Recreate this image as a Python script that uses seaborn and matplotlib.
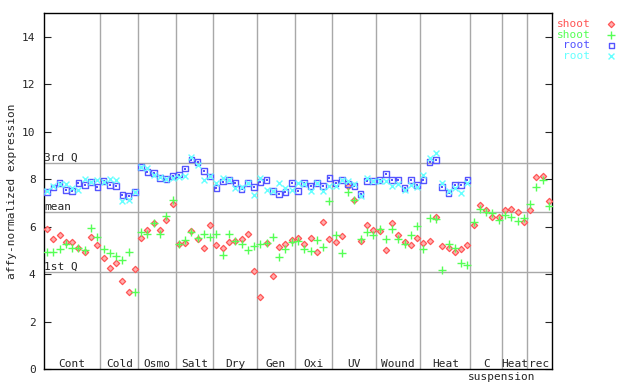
import matplotlib as mpl
import matplotlib.pyplot as plt
import seaborn as sns
import numpy as np
import pandas as pd

# sample groups along the x axis
groups = ["Cont", "Cold", "Osmo", "Salt", "Dry", "Gen", "Oxi", "UV",
          "Wound", "Heat", "C", "Heat", "rec"]
group_sizes = [9, 6, 6, 6, 7, 6, 6, 7, 7, 8, 5, 4, 4]

# shoot replicates (81 samples)
shoot_a = [5.89, 5.47, 5.64, 5.34, 5.34, 5.09, 4.92, 5.56, 5.22,
           4.67, 4.25, 4.46, 3.71, 3.23, 4.21,
           5.51, 5.85, 6.15, 5.85, 6.26, 6.95,
           5.26, 5.30, 5.81, 5.47, 5.09, 6.06,
           5.22, 5.09, 5.34, 5.39, 5.47, 5.68, 4.12,
           3.02, 5.30, 3.91, 5.13, 5.26, 5.43,
           5.51, 5.26, 5.51, 4.92, 6.19, 5.47,
           5.34, 5.60, 7.71, 7.10, 5.39, 6.06, 5.85,
           5.81, 5.01, 6.15, 5.64, 5.34, 5.22, 5.51,
           5.30, 5.39, 6.40, 5.18, 5.09, 4.92, 5.05, 5.22,
           6.06, 6.91, 6.69, 6.40, 6.40,
           6.69, 6.74, 6.61, 6.19,
           6.69, 8.09, 8.13, 7.07]
shoot_b = [4.92, 4.92, 5.05, 5.26, 5.09, 5.09, 5.01, 5.94, 5.56,
           5.05, 4.88, 4.75, 4.59, 4.92, 3.23,
           5.77, 5.68, 6.15, 5.68, 6.46, 7.12,
           5.26, 5.43, 5.77, 5.51, 5.68, 5.56,
           5.68, 4.80, 5.68, 5.39, 5.26, 5.01, 5.18,
           5.26, 5.30, 5.56, 4.71, 5.05, 5.34,
           5.39, 5.05, 4.96, 5.43, 5.13, 7.07,
           5.64, 4.88, 7.45, 7.12, 5.47, 5.77, 5.64,
           5.89, 5.47, 5.89, 5.47, 5.26, 5.64, 6.02,
           5.05, 6.36, 6.32, 4.16, 5.26, 5.09, 4.46, 4.37,
           6.19, 6.74, 6.61, 6.57, 6.27,
           6.48, 6.40, 6.23, 6.36,
           6.95, 7.67, 7.96, 6.86]

# root replicates (no cell culture samples)
root_a = [7.45, 7.65, 7.83, 7.55, 7.51, 7.83, 7.75, 7.88, 7.68,
          7.92, 7.75, 7.72, 7.33, 7.29, 7.45,
          8.51, 8.30, 8.26, 8.04, 8.00, 8.13,
          8.19, 8.44, 8.82, 8.72, 8.34, 8.12,
          7.62, 7.90, 7.96, 7.83, 7.58, 7.83, 7.67,
          7.88, 7.96, 7.50, 7.37, 7.45, 7.83,
          7.50, 7.83, 7.71, 7.83, 7.71, 8.05,
          7.83, 7.96, 7.79, 7.71, 7.37, 7.92, 7.92,
          7.96, 8.21, 7.96, 7.96, 7.62, 7.96, 7.75,
          7.96, 8.72, 8.80, 7.67, 7.41, 7.75, 7.75, 7.96]
root_b = [7.50, 7.72, 7.80, 7.79, 7.62, 7.54, 8.00, 7.88, 7.96,
          7.88, 8.00, 7.96, 7.07, 7.12, 7.45,
          8.51, 8.47, 8.17, 8.09, 8.00, 8.05,
          8.09, 8.13, 8.93, 8.59, 7.96, 8.13,
          7.83, 8.05, 7.96, 7.62, 7.67, 7.83, 7.33,
          8.05, 7.54, 7.50, 7.83, 7.62, 7.54,
          7.83, 7.79, 7.50, 7.83, 7.50, 7.71,
          7.71, 7.96, 7.92, 7.79, 7.29, 8.05, 7.92,
          7.92, 7.92, 7.71, 7.79, 7.54, 7.75, 7.67,
          8.17, 8.89, 9.10, 7.83, 7.50, 7.62, 7.41, 7.83]

q1, q_mean, q3 = 4.08, 6.60, 8.68

RED, GREEN, BLUE, CYAN = "#ff5555", "#55ff55", "#5555ff", "#66ffff"
GRID = "#a8a8a8"

sns.set_style("white")
plt.rcParams["font.family"] = ["DejaVu Sans Mono"]
plt.rcParams["font.size"] = 8

fig = plt.figure(figsize=(6.4, 3.84), dpi=100)
ax = fig.add_axes([44 / 640, 15 / 384, 508 / 640, 356 / 384])

# group separators and quartile lines
bounds = np.cumsum(group_sizes)[:-1] - 0.5
for b in bounds:
    ax.axvline(b, color=GRID, lw=1, zorder=0)
for val, name in [(q3, "3rd Q"), (q_mean, "mean"), (q1, "1st Q")]:
    ax.axhline(val, color=GRID, lw=1, zorder=0)
    ax.text(-0.45, val + 0.02, name, ha="left", va="bottom", fontsize=8)

shoot_df = pd.DataFrame({"sample": np.arange(len(shoot_a)), "a": shoot_a, "b": shoot_b})
root_df = pd.DataFrame({"sample": np.arange(len(root_a)), "a": root_a, "b": root_b})

sns.scatterplot(data=shoot_df, x="sample", y="a", ax=ax, marker="D", s=10,
                facecolor="#ffb0b0", edgecolor=RED, linewidth=0.9,
                label="shoot", legend=False, zorder=3)
sns.scatterplot(data=shoot_df, x="sample", y="b", ax=ax, marker="+", s=30,
                color=GREEN, linewidth=1.0, label="shoot", legend=False, zorder=3)
sns.scatterplot(data=root_df, x="sample", y="a", ax=ax, marker="s", s=16,
                facecolor="none", edgecolor=BLUE, linewidth=1.0,
                label="root", legend=False, zorder=3)
sns.scatterplot(data=root_df, x="sample", y="a", ax=ax, marker="s", s=1.2,
                color=BLUE, linewidth=0, legend=False, zorder=3)
sns.scatterplot(data=root_df, x="sample", y="b", ax=ax, marker="x", s=18,
                color=CYAN, linewidth=1.0, label="root", legend=False, zorder=3)

# group names along the bottom
start = 0
for name, n in zip(groups, group_sizes):
    ax.text(start + n / 2 - 0.5, 0.22, name, ha="center", va="center", fontsize=8)
    start += n
ax.text(bounds[10], -0.34, "suspension", ha="center", va="center", fontsize=8,
        clip_on=False)

ax.set_xlim(-0.5, len(shoot_a) - 0.5)
ax.set_ylim(0, 15)
ax.set_xticks([])
ax.set_yticks(range(0, 15, 2))
ax.tick_params(axis="y", direction="in", length=5, left=True, right=True,
               labelsize=8, pad=6)
ax.set_xlabel("")
ax.set_ylabel("affy-normalized expression", fontsize=8)
ax.yaxis.set_label_coords(-0.054, 0.5)
for sp in ax.spines.values():
    sp.set_color("black")
    sp.set_linewidth(1)

ax.legend(loc="upper left", bbox_to_anchor=(1.0, 0.995), frameon=False,
          markerfirst=False, labelcolor=[RED, GREEN, BLUE, CYAN], fontsize=8,
          handletextpad=1.4, labelspacing=0.05, borderaxespad=0.0,
          handlelength=1.0)

plt.savefig("out.png", dpi=100)
